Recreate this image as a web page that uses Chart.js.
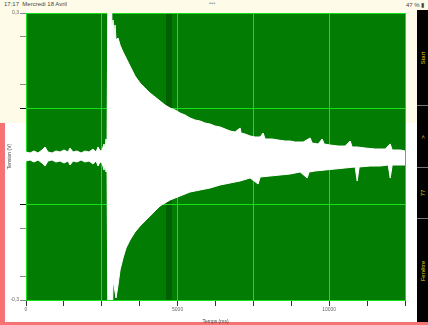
<!DOCTYPE html>
<html>
<head>
<meta charset="utf-8">
<script src="https://cdn.jsdelivr.net/npm/chart.js@4.4.1/dist/chart.umd.min.js"></script>
<style>
  html, body { margin: 0; padding: 0; }
  body { width: 428px; height: 325px; background: #fffbe9; position: relative; overflow: hidden; font-family: "Liberation Sans", Arial, sans-serif; }
  #lower { position: absolute; left: 0; top: 123px; width: 428px; height: 202px; background: #f77272; }
  #lowerInner { position: absolute; left: 5px; top: 0; width: 423px; height: 199px; background: #ffffff; }
  #status { position: absolute; left: 4px; top: 1px; font-size: 6px; color: #444; }
  #dots { position: absolute; left: 209px; top: 0px; font-size: 6px; color: #999; }
  #battery { position: absolute; left: 406px; top: 1px; font-size: 6px; color: #444; }
  #panel { position: absolute; left: 417px; top: 10px; width: 11px; height: 312px; background: #000; }
  .btn { position: absolute; left: 0; width: 11px; border-bottom: 1px solid #777; }
  .btn span { position: absolute; left: 50%; top: 50%; transform: translate(-50%, -50%) rotate(-90deg); color: #e3d21a; font-size: 6px; white-space: nowrap; }
  #chart { position: absolute; left: 0; top: 0; }
</style>
</head>
<body>
<div id="lower"><div id="lowerInner"></div></div>
<div id="status">17:17&nbsp; Mercredi 18 Avril</div>
<div id="dots">&bull;&bull;&bull;</div>
<div id="battery">47 % &#9646;</div>
<div id="panel">
  <div class="btn" style="top:0;height:95px"><span>Start</span></div>
  <div class="btn" style="top:96px;height:61px"><span>&gt;</span></div>
  <div class="btn" style="top:158px;height:50px"><span>77</span></div>
  <div class="btn" style="top:209px;height:103px;border-bottom:none"><span>Fenêtre</span></div>
</div>
<canvas id="chart" width="428" height="325"></canvas>
<script>
// upper envelope of the recorded signal
const upperTimes = [0, 132, 264, 396, 528, 627, 726, 858, 990, 1122, 1254, 1386, 1452, 1551, 1683, 1815, 1947, 2079, 2211, 2310, 2376, 2442, 2508, 2574, 2607, 2640, 2673,
  2706, 2805, 2838, 2871, 2904, 2937, 2970, 3036, 3102, 3201, 3300, 3432, 3597, 3762, 3927, 4092, 4257, 4422, 4587, 4752, 4917, 5082, 5247, 5412, 5577, 5742, 5907,
  6072, 6237, 6402, 6567, 6732, 6897, 7062, 7095, 7227, 7392, 7557, 7722, 7821, 7887, 8118, 8316, 8547, 8712, 8877, 9141, 9372, 9438, 9636, 9768, 9834, 10032,
  10296, 10527, 10692, 10758, 10923, 11187, 11517, 11847, 12012, 12078, 12342, 12507];
const upperValues = [0.0094, 0.0073, 0.0115, 0.0073, 0.0136, 0.0199, 0.0094, 0.0073, 0.0115, 0.0094, 0.0136, 0.0094, 0.0178, 0.0094, 0.0115, 0.0073, 0.0115, 0.0094, 0.0157, 0.0094, 0.0199, 0.0115, 0.0136, 0.0261, 0.0136, 0.0366, 0.0178,
  0.4, 0.4, 0.2644, 0.2853, 0.254, 0.275, 0.2435, 0.2477, 0.233, 0.2184, 0.2059, 0.1891, 0.1682, 0.1536, 0.1432, 0.1327, 0.1244, 0.116, 0.1076, 0.1014, 0.0972, 0.0909, 0.0867, 0.0805, 0.0763, 0.0742, 0.07,
  0.0679, 0.0637, 0.0617, 0.0575, 0.0533, 0.0512, 0.0596, 0.0491, 0.047, 0.0429, 0.0408, 0.0408, 0.0491, 0.0366, 0.0366, 0.0345, 0.0324, 0.0324, 0.0303, 0.0303, 0.0387, 0.0282, 0.0261, 0.0366, 0.0261, 0.024,
  0.0219, 0.0219, 0.0324, 0.0199, 0.0199, 0.0178, 0.0157, 0.0157, 0.0261, 0.0136, 0.0136, 0.0115];

// lower envelope of the recorded signal
const lowerTimes = [0, 132, 264, 396, 528, 627, 726, 858, 990, 1122, 1254, 1386, 1452, 1551, 1683, 1815, 1947, 2079, 2211, 2310, 2376, 2442, 2508, 2574, 2607, 2640, 2673,
  2706, 2838, 2871, 2970, 3036, 3102, 3201, 3300, 3432, 3597, 3762, 3927, 4092, 4257, 4422, 4587, 4752, 4917, 5082, 5247, 5412, 5577, 5742, 6072, 6402, 6732, 7062,
  7392, 7656, 7722, 8052, 8382, 8712, 9042, 9273, 9339, 9537, 9867, 10197, 10527, 10857, 10923, 10989, 11352, 11682, 11946, 12012, 12078, 12507];
const lowerValues = [-0.0094, -0.0073, -0.0115, -0.0073, -0.0136, -0.0199, -0.0094, -0.0073, -0.0115, -0.0094, -0.0136, -0.0094, -0.0178, -0.0094, -0.0115, -0.0073, -0.0115, -0.0094, -0.0157, -0.0094, -0.0199, -0.0115, -0.0136, -0.0282, -0.0136, -0.0324, -0.0178,
  -0.4, -0.4, -0.2581, -0.2958, -0.2686, -0.2372, -0.2121, -0.1913, -0.1745, -0.1578, -0.1453, -0.1348, -0.1244, -0.1139, -0.1034, -0.0972, -0.0909, -0.0868, -0.0826, -0.0784, -0.0742, -0.0721, -0.07, -0.0659, -0.0596, -0.0554, -0.0512,
  -0.0449, -0.0575, -0.0429, -0.0408, -0.0387, -0.0366, -0.0324, -0.0449, -0.0324, -0.0303, -0.0282, -0.0261, -0.024, -0.0219, -0.0512, -0.0219, -0.0199, -0.0199, -0.0178, -0.0449, -0.0178, -0.0178];

// axis ticks
const xTicks = [0, 1250, 2500, 3750, 5000, 6250, 7500, 8750, 10000, 11250, 12500];
const xLabels = ['0', '', '', '', '5000', '', '', '', '10000', '', ''];
const xGridAt = [2500, 5000, 7500, 10000, 12500];
const yTicks = [-0.3, -0.25, -0.15, -0.1, 0.1, 0.15, 0.25, 0.3];
const yLabels = ['-0,3', '', '', '', '', '', '', '0,3'];
const yGridAt = [-0.1, 0.1, 0.3];
// darker marker band on the time axis
const markerBand = [4620, 4810];

const GREEN = '#037c03';
const GRID = '#19e019';
const WHITE = '#ffffff';

const plotBackground = {
    id: 'plotBackground',
    beforeDraw(chart) {
        const { ctx, chartArea: a, scales } = chart;
        ctx.save();
        ctx.fillStyle = GREEN;
        ctx.fillRect(a.left, a.top, a.right - a.left, a.bottom - a.top);
        const x0 = scales.x.getPixelForValue(markerBand[0]);
        const x1 = scales.x.getPixelForValue(markerBand[1]);
        ctx.fillStyle = '#025f02';
        ctx.fillRect(x0, a.top, x1 - x0, a.bottom - a.top);
        ctx.restore();
    }
};

const ctx = document.getElementById('chart');
const chart = new Chart(ctx, {
    type: 'line',
    data: {
        datasets: [
            {
                data: upperTimes.map((t, i) => ({ x: t, y: upperValues[i] })),
                borderColor: WHITE,
                backgroundColor: WHITE,
                borderWidth: 1,
                pointRadius: 0,
                fill: '+1'
            },
            {
                data: lowerTimes.map((t, i) => ({ x: t, y: lowerValues[i] })),
                borderColor: WHITE,
                backgroundColor: WHITE,
                borderWidth: 1,
                pointRadius: 0,
                fill: false
            }
        ]
    },
    options: {
        responsive: false,
        animation: false,
        layout: { padding: { top: 13, right: 23, left: 0, bottom: 0 } },
        plugins: { legend: { display: false }, tooltip: { enabled: false } },
        scales: {
            x: {
                type: 'linear',
                min: 0,
                max: 12500,
                afterBuildTicks: s => { s.ticks = xTicks.map(v => ({ value: v })); },
                afterFit: s => { s.height = 25; },
                ticks: {
                    autoSkip: false,
                    maxRotation: 0,
                    padding: 1,
                    color: '#666',
                    font: { size: 5, family: 'Liberation Sans' },
                    callback: (v) => xLabels[xTicks.indexOf(v)]
                },
                grid: {
                    color: c => xGridAt.includes(c.tick && c.tick.value) ? GRID : 'rgba(0,0,0,0)',
                    tickColor: '#333',
                    tickLength: 6
                },
                border: { color: GRID },
                title: { display: true, text: 'Temps (ms)', color: '#444', font: { size: 5, family: 'Liberation Sans' }, padding: 0 }
            },
            y: {
                min: -0.3,
                max: 0.3,
                afterBuildTicks: s => { s.ticks = yTicks.map(v => ({ value: v })); },
                afterFit: s => { s.width = 26; },
                ticks: {
                    autoSkip: false,
                    padding: 1,
                    color: '#666',
                    font: { size: 5, family: 'Liberation Sans' },
                    callback: (v) => yLabels[yTicks.indexOf(v)]
                },
                grid: {
                    color: c => yGridAt.includes(c.tick && c.tick.value) ? GRID : 'rgba(0,0,0,0)',
                    tickColor: c => (c.tick && Math.abs(c.tick.value) === 0.1) ? '#111' : '#888',
                    tickLength: 6
                },
                border: { color: GRID },
                title: { display: true, text: 'Tension (V)', color: '#444', font: { size: 5, family: 'Liberation Sans' }, padding: { top: 7, bottom: 0 } }
            }
        }
    },
    plugins: [plotBackground]
});
</script>
</body>
</html>
